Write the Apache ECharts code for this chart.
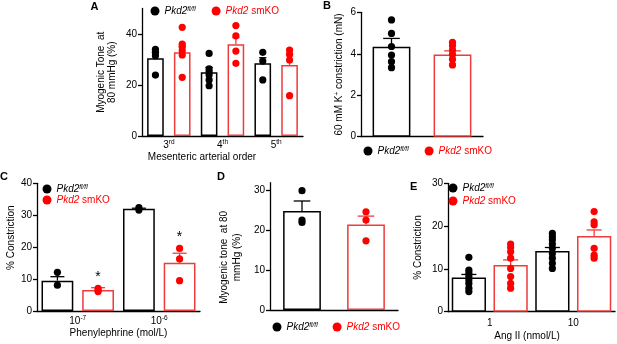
<!DOCTYPE html>
<html>
<head>
<meta charset="utf-8">
<script src="https://cdn.jsdelivr.net/npm/echarts@6/dist/echarts.min.js"></script>
<style>
  html, body { margin: 0; padding: 0; background: #fff; }
  #main { width: 617px; height: 344px; }
</style>
</head>
<body>
<div id="main"></div>
<script>
// ---- A: myogenic tone by arterial order
const aCats = ['3rd', '4th', '5th'];
const aFlMean = [30.5, 25.0, 28.5];
const aFlSem = [2.5, 1.9, 2.2];
const aKoMean = [32.8, 36.0, 27.8];
const aKoSem = [2.2, 2.6, 4.2];
const aFlDots = [[34.0, 32.6, 31.5, 23.9], [32.4, 26.3, 25.2, 23.9, 22.0, 19.7], [32.8, 29.4, 22.0]];
const aKoDots = [[42.6, 36.0, 35.0, 33.5, 31.8, 23.0], [43.3, 39.3, 33.3, 28.5], [33.7, 32.0, 29.8, 15.8]];

// ---- B: 60 mM K+ constriction
const bFlMean = 4.34, bFlSem = 0.40;
const bKoMean = 3.97, bKoSem = 0.17;
const bFlDots = [5.63, 4.98, 4.35, 3.94, 3.62, 3.33];
const bKoDots = [4.55, 4.39, 4.18, 3.97, 3.73, 3.46];

// ---- C: phenylephrine
const cCats = ['10-7', '10-6'];
const cFlMean = [9.5, 32.0];
const cFlSem = [1.25, 0.2];
const cKoMean = [6.6, 15.1];
const cKoSem = [0.7, 3.0];
const cFlDots = [[12.1, 8.1], [32.4, 31.6]];
const cKoDots = [[7.1, 6.5, 6.1], [19.6, 16.3, 9.5]];
const cSig = ['*', '*'];

// ---- D: myogenic tone
const dFlMean = 24.9, dFlSem = 2.5;
const dKoMean = 21.5, dKoSem = 2.1;
const dFlDots = [30.0, 22.6, 22.0];
const dKoDots = [24.7, 22.6, 17.4];

// ---- E: Ang II
const eCats = ['1', '10'];
const eFlMean = [8.0, 14.2];
const eFlSem = [0.7, 0.8];
const eKoMean = [10.9, 17.7];
const eKoSem = [1.2, 1.4];
const eFlDots = [[12.7, 9.7, 9.0, 8.2, 7.4, 6.6, 5.5, 4.7], [18.3, 17.5, 16.8, 15.8, 14.8, 13.6, 12.5, 11.3, 10.1]];
const eKoDots = [[15.8, 15.0, 14.0, 12.5, 10.1, 8.2, 6.6, 5.5], [23.4, 21.0, 20.3, 14.8, 13.2, 12.5]];

const BLACK = '#000';
const RED = '#ff0000';
const RED_LINE = '#ee3b3b';
const FONT = 'Arial, "Liberation Sans", sans-serif';

const chart = echarts.init(document.getElementById('main'));

const xAxes = [], yAxes = [], grids = [], series = [], legends = [];

const supRich = {
    s: { fontSize: 6.5, verticalAlign: 'top', lineHeight: 7, fontFamily: FONT, color: BLACK }
};

function addAxes(grid, cats, max, ticks, o) {
    const idx = grids.length;
    grids.push(grid);
    xAxes.push({
        type: 'category', gridIndex: idx, data: cats,
        axisLine: { lineStyle: { color: BLACK, width: 1.3 } },
        axisTick: { show: false },
        axisLabel: {
            show: o.xLabels !== false, margin: o.xMargin || 3, fontSize: 10, fontFamily: FONT, color: BLACK,
            lineHeight: 12, rich: supRich,
            formatter: v => v.replace(/^(\d+)(rd|th)$/, '$1{s|$2}').replace(/^10(-\d)$/, '10{s|$1}')
        },
        name: o.xName || '', nameLocation: 'middle', nameGap: o.xNameGap || 15,
        nameTextStyle: { fontSize: 10, fontFamily: FONT, color: BLACK, padding: o.xNamePad || 0 }
    });
    yAxes.push({
        type: 'value', gridIndex: idx, min: 0, max: max,
        splitLine: { show: false },
        axisLine: { show: true, lineStyle: { color: BLACK, width: 1.3 } },
        axisTick: { show: true, length: 4, customValues: ticks, lineStyle: { color: BLACK, width: 1.3 } },
        axisLabel: { customValues: ticks, margin: 5, fontSize: 10, fontFamily: FONT, color: BLACK },
        name: o.yName, nameLocation: 'middle', nameRotate: 90, nameGap: o.yNameGap,
        nameTextStyle: {
            fontSize: 10, lineHeight: o.yLineHeight || 11, fontFamily: FONT, color: BLACK, padding: o.yNamePad || 0,
            rich: { s: { fontSize: 6.5, verticalAlign: 'top', lineHeight: 6, fontFamily: FONT, color: BLACK } }
        }
    });
    return idx;
}

// offset of each bar centre within its category, from the bar layout settings
function offsetOf(api, side, pct, gap, grouped) {
    const band = api.size([1, 0])[0];
    const w = band * pct;
    return { off: grouped ? side * w * (1 + gap) / 2 : 0, w: w };
}

function addBars(idx, flData, koData, pct, gap, grouped) {
    const common = {
        type: 'bar', xAxisIndex: idx, yAxisIndex: idx,
        barWidth: (pct * 100) + '%', barGap: grouped ? (gap * 100) + '%' : '-100%',
        silent: true
    };
    series.push(Object.assign({ name: 'fl', data: flData,
        itemStyle: { color: '#fff', borderColor: BLACK, borderWidth: 1.5 } }, common));
    series.push(Object.assign({ name: 'ko', data: koData,
        itemStyle: { color: '#fff', borderColor: RED_LINE, borderWidth: 1.5 } }, common));
}

function addErr(idx, data, pct, gap, grouped) {
    series.push({
        type: 'custom', xAxisIndex: idx, yAxisIndex: idx, silent: true, z: 3,
        encode: { x: 0, y: 1 },
        data: data,
        renderItem: (params, api) => {
            const side = api.value(3);
            const L = offsetOf(api, side, pct, gap, grouped);
            const base = api.coord([api.value(0), api.value(1)]);
            const top = api.coord([api.value(0), api.value(1) + api.value(2)]);
            const x = base[0] + L.off, cap = L.w * 0.22;
            const color = side < 0 ? BLACK : RED_LINE;
            const st = { stroke: color, lineWidth: 1.3 };
            return { type: 'group', children: [
                { type: 'line', shape: { x1: x, y1: base[1], x2: x, y2: top[1] }, style: st },
                { type: 'line', shape: { x1: x - cap, y1: top[1], x2: x + cap, y2: top[1] }, style: st }
            ] };
        }
    });
}

function addDots(idx, data, pct, gap, grouped) {
    series.push({
        type: 'custom', xAxisIndex: idx, yAxisIndex: idx, silent: true, z: 4,
        encode: { x: 0, y: 1 },
        data: data,
        renderItem: (params, api) => {
            const side = api.value(2);
            const L = offsetOf(api, side, pct, gap, grouped);
            const p = api.coord([api.value(0), api.value(1)]);
            return { type: 'circle', shape: { cx: p[0] + L.off, cy: p[1], r: 3.6 },
                style: { fill: side < 0 ? BLACK : RED } };
        }
    });
}

function groupDots(flDots, koDots) {
    const out = [];
    flDots.forEach((arr, i) => arr.forEach(v => out.push([i, v, -1])));
    koDots.forEach((arr, i) => arr.forEach(v => out.push([i, v, 1])));
    return out;
}
function groupErr(flMean, flSem, koMean, koSem) {
    const out = [];
    flMean.forEach((m, i) => out.push([i, m, flSem[i], -1]));
    koMean.forEach((m, i) => out.push([i, m, koSem[i], 1]));
    return out;
}

function addLegend(left, top, orient, gap) {
    legends.push({
        left: left, top: top, orient: orient, itemGap: gap, padding: 0,
        icon: 'circle', itemWidth: 9, itemHeight: 9, selectedMode: false,
        data: [
            { name: 'fl', itemStyle: { color: BLACK, borderWidth: 0 } },
            { name: 'ko', itemStyle: { color: RED, borderWidth: 0 } }
        ],
        formatter: n => n === 'fl' ? '{i|Pkd2}{s|fl/fl}' : '{ri|Pkd2} {r|smKO}',
        textStyle: {
            fontSize: 10, fontFamily: FONT, lineHeight: 11,
            rich: {
                i: { fontStyle: 'italic', fontSize: 10, color: BLACK, fontFamily: FONT, lineHeight: 11 },
                s: { fontStyle: 'italic', fontSize: 6.5, color: BLACK, fontFamily: FONT, verticalAlign: 'top', lineHeight: 6 },
                ri: { fontStyle: 'italic', fontSize: 10, color: RED, fontFamily: FONT, lineHeight: 11 },
                r: { fontSize: 10, color: RED, fontFamily: FONT, lineHeight: 11 }
            }
        }
    });
}

// ---- panel A
let g = addAxes({ left: 142, top: 8.5, width: 161, height: 127.5 }, aCats, 50, [0, 20, 40], {
    yName: 'Myogenic Tone  at\n80 mmHg (%)', yNameGap: 24,
    xName: 'Mesenteric arterial order', xNameGap: 14, xNamePad: [0, 41, 0, 0], xMargin: 3
});
addBars(g, aFlMean, aKoMean, 0.31, 0.61, true);
addErr(g, groupErr(aFlMean, aFlSem, aKoMean, aKoSem), 0.31, 0.61, true);
addDots(g, groupDots(aFlDots, aKoDots), 0.31, 0.61, true);
addLegend(150.5, 5.5, 'horizontal', 16);

// ---- panel B
g = addAxes({ left: 361, top: 12.3, width: 122, height: 124.4 }, ['fl', 'ko'], 6, [0, 2, 4, 6], {
    yName: '60 mM K{s|+} constriction (mN)', yNameGap: 16, xLabels: false
});
addBars(g, [bFlMean, '-'], ['-', bKoMean], 0.62, 0, false);
addErr(g, [[0, bFlMean, bFlSem, -1], [1, bKoMean, bKoSem, 1]], 0.62, 0, false);
addDots(g, bFlDots.map(v => [0, v, -1]).concat(bKoDots.map(v => [1, v, 1])), 0.62, 0, false);
addLegend(363.5, 145.5, 'horizontal', 16);

// ---- panel C
g = addAxes({ left: 37, top: 183.3, width: 163, height: 127.7 }, cCats, 40, [0, 10, 20, 30, 40], {
    yName: '% Constriction', yNameGap: 19, yNamePad: [0, 0, 0, 19],
    xName: 'Phenylephrine (mol/L)', xNameGap: 15, xMargin: 4
});
addBars(g, cFlMean, cKoMean, 0.39, 0.28, true);
addErr(g, groupErr(cFlMean, cFlSem, cKoMean, cKoSem), 0.39, 0.28, true);
addDots(g, groupDots(cFlDots, cKoDots), 0.39, 0.28, true);
series.push({
    type: 'custom', xAxisIndex: g, yAxisIndex: g, silent: true, z: 5,
    encode: { x: 0, y: 1 },
    data: cSig.map((s, i) => [i, Math.max(cKoMean[i] + cKoSem[i], ...cKoDots[i]), s]),
    renderItem: (params, api) => {
        const L = offsetOf(api, 1, 0.39, 0.28, true);
        const p = api.coord([api.value(0), api.value(1)]);
        return { type: 'text', x: p[0] + L.off, y: p[1] - 4,
            style: { text: api.value(2), font: '14px ' + FONT, fill: BLACK, align: 'center', verticalAlign: 'bottom' } };
    }
});
addLegend(42.5, 183.5, 'vertical', 0);

// ---- panel D
g = addAxes({ left: 270, top: 182.7, width: 128, height: 127.3 }, ['fl', 'ko'], 32, [0, 10, 20, 30], {
    yName: 'Myogenic tone  at 80\nmmHg (%)', yNameGap: 26, yNamePad: [0, 22, 0, 0], yLineHeight: 13, xLabels: false
});
addBars(g, [dFlMean, '-'], ['-', dKoMean], 0.59, 0, false);
addErr(g, [[0, dFlMean, dFlSem, -1], [1, dKoMean, dKoSem, 1]], 0.59, 0, false);
addDots(g, dFlDots.map(v => [0, v, -1]).concat(dKoDots.map(v => [1, v, 1])), 0.59, 0, false);
addLegend(272.5, 321.5, 'horizontal', 15);

// ---- panel E
g = addAxes({ left: 448, top: 183.3, width: 167, height: 128.4 }, eCats, 30, [0, 10, 20, 30], {
    yName: '% Constriction', yNameGap: 24,
    xName: 'Ang II (nmol/L)', xNameGap: 20, xNamePad: [0, 9, 0, 0], xMargin: 6
});
addBars(g, eFlMean, eKoMean, 0.41, 0.22, true);
addErr(g, groupErr(eFlMean, eFlSem, eKoMean, eKoSem), 0.41, 0.22, true);
addDots(g, groupDots(eFlDots, eKoDots), 0.41, 0.22, true);
addLegend(448.5, 182.5, 'vertical', 2);

// panel letters
const letters = [['A', 90.5, 1.5], ['B', 323, 0], ['C', 0, 171], ['D', 217, 171], ['E', 410, 181]];

chart.setOption({
    animation: false,
    textStyle: { fontFamily: FONT },
    grid: grids,
    xAxis: xAxes,
    yAxis: yAxes,
    legend: legends,
    series: series,
    graphic: letters.map(l => ({
        type: 'text', left: l[1], top: l[2],
        style: { text: l[0], font: 'bold 11px ' + FONT, fill: BLACK }
    }))
});
</script>
</body>
</html>
